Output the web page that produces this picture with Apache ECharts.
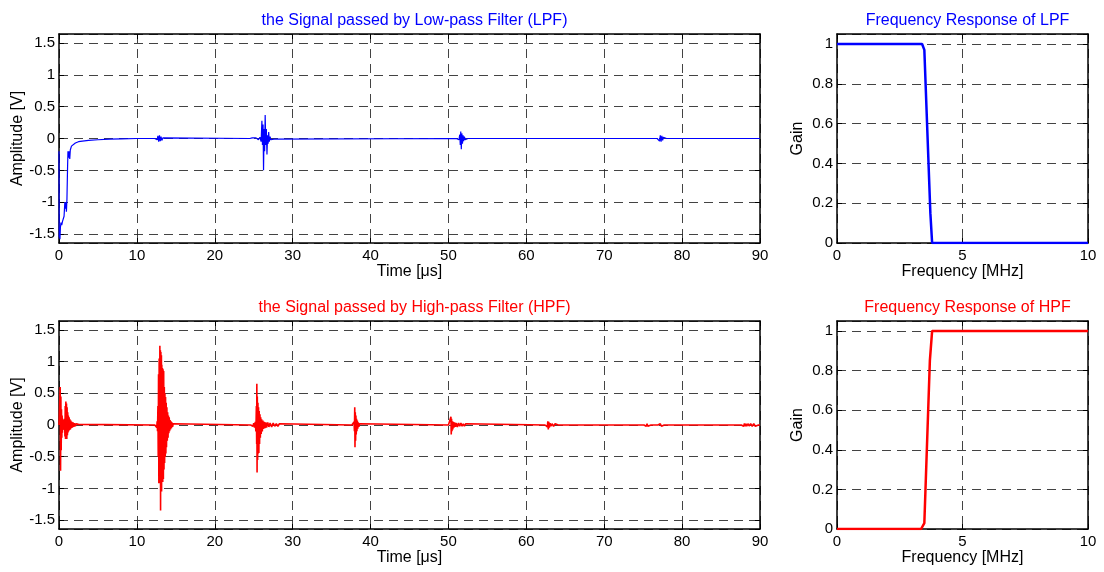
<!DOCTYPE html>
<html>
<head>
<meta charset="utf-8">
<script src="https://cdn.jsdelivr.net/npm/echarts@6/dist/echarts.min.js"></script>
<style>
html,body{margin:0;padding:0;background:#fff;}
#chart{width:1104px;height:572px;}
</style>
</head>
<body>
<div id="chart"></div>
<script>
// ---- data ----
var titles = [
  'the Signal passed by Low-pass Filter (LPF)',
  'Frequency Response of LPF',
  'the Signal passed by High-pass Filter (HPF)',
  'Frequency Response of HPF'
];
var timeAxisName = 'Time [\u03bcs]';
var ampAxisName = 'Amplitude [V]';
var freqAxisName = 'Frequency [MHz]';
var gainAxisName = 'Gain';

// LPF output signal: [time (us), amplitude (V)]
var lpfSignal = [
  [0,-0.2],[0.03,-1.55],[0.08,-1.45],[0.12,-1.58],[0.18,-1.4],[0.25,-1.32],[0.35,-1.36],[0.45,-1.3],
  [0.55,-1.3],[0.65,-1.22],[0.75,-1.0],[0.82,-1.1],[0.9,-1.0],[0.95,-1.15],[1.02,-0.95],[1.1,-0.45],
  [1.15,-0.2],[1.22,-0.3],[1.3,-0.2],[1.38,-0.32],[1.45,-0.18],[1.6,-0.12],[1.8,-0.09],[2.1,-0.07],
  [2.5,-0.05],[3.0,-0.04],[3.8,-0.03],[5,-0.02],[6.5,-0.01],[8,-0.005],[10,0],
  [12.3,0],[12.5,0.01],[12.6,-0.02],[12.7,0.04],[12.8,-0.05],[12.9,0.05],[13.0,-0.04],[13.1,0.03],
  [13.2,-0.03],[13.35,0.01],[13.5,0],
  [24.5,0],[24.8,0.01],[25.0,-0.01],[25.3,0.01],[25.6,-0.02],[25.8,0.02],[25.95,-0.05],[26.05,0.28],
  [26.12,-0.1],[26.2,0.22],[26.26,-0.5],[26.33,0.15],[26.4,-0.2],[26.47,0.37],[26.55,-0.1],[26.62,0.15],
  [26.7,-0.25],[26.78,0.05],[26.85,-0.08],[26.92,0.1],[27.0,-0.05],[27.1,0.03],[27.2,-0.02],[27.4,0.01],
  [27.6,-0.01],[27.8,0],
  [51,0],[51.2,0.01],[51.35,-0.02],[51.45,0.06],[51.52,-0.1],[51.58,0.11],[51.65,-0.17],[51.72,0.08],
  [51.8,-0.08],[51.88,0.05],[51.95,-0.04],[52.05,0.03],[52.15,-0.02],[52.3,0.01],[52.5,0],
  [76.8,0],[77.0,0.02],[77.1,-0.04],[77.2,0.05],[77.3,-0.05],[77.4,0.04],[77.5,-0.03],[77.6,0.02],
  [77.75,-0.01],[78,0],[90,0]
];

// HPF output signal: [time (us), amplitude (V)]
var hpfSignal = [
  [0,0],[0.1,0.02],[0.15,0.6],[0.2,-0.72],[0.24,0.45],[0.28,-0.4],[0.32,0.25],[0.36,-0.2],[0.4,0.15],
  [0.44,-0.12],[0.48,0.1],[0.52,-0.08],[0.56,0.08],[0.6,-0.07],[0.64,0.07],[0.68,-0.06],[0.72,0.1],
  [0.76,-0.18],[0.8,0.3],[0.84,-0.22],[0.88,0.37],[0.92,-0.2],[0.96,0.34],[1.0,-0.22],[1.04,0.28],
  [1.08,-0.16],[1.12,0.2],[1.16,-0.12],[1.2,0.15],[1.25,-0.1],[1.3,0.12],[1.35,-0.08],[1.4,0.09],
  [1.46,-0.07],[1.52,0.07],[1.58,-0.05],[1.65,0.05],[1.72,-0.04],[1.8,0.04],[1.9,-0.03],[2.0,0.03],
  [2.1,-0.02],[2.2,0.02],[2.35,-0.01],[2.5,0.01],[2.65,0],
  [12.3,0],[12.4,0.02],[12.45,-0.02],[12.5,0.03],[12.55,-0.04],[12.6,0.06],[12.65,-0.1],[12.7,0.3],
  [12.74,-0.5],[12.78,0.8],[12.82,-0.92],[12.86,1.05],[12.9,-0.9],[12.95,1.25],[12.98,-0.92],[13.02,1.18],
  [13.04,-1.35],[13.08,1.15],[13.12,-0.92],[13.15,1.1],[13.17,-1.05],[13.2,0.95],[13.24,-0.9],[13.28,0.9],
  [13.32,-0.9],[13.36,0.88],[13.4,-0.85],[13.44,0.85],[13.48,-0.7],[13.52,0.6],[13.56,-0.6],[13.6,0.5],
  [13.64,-0.5],[13.68,0.44],[13.72,-0.45],[13.76,0.35],[13.8,-0.35],[13.85,0.28],[13.9,-0.25],[13.95,0.2],
  [14.0,-0.2],[14.05,0.15],[14.1,-0.13],[14.15,0.12],[14.2,-0.1],[14.26,0.08],[14.32,-0.07],[14.38,0.06],
  [14.44,-0.05],[14.5,0.04],[14.58,-0.03],[14.66,0.02],[14.75,-0.01],[14.85,0],
  [24.6,0],[24.8,0.02],[24.9,-0.02],[25.0,0.03],[25.1,-0.04],[25.2,0.05],[25.28,-0.1],[25.34,0.3],
  [25.38,-0.3],[25.4,0.65],[25.43,-0.75],[25.46,0.45],[25.5,-0.55],[25.54,0.35],[25.58,-0.45],[25.62,0.28],
  [25.66,-0.44],[25.7,0.22],[25.75,-0.3],[25.8,0.17],[25.85,-0.2],[25.9,0.12],[25.96,-0.14],[26.02,0.09],
  [26.1,-0.1],[26.18,0.07],[26.26,-0.06],[26.35,0.05],[26.45,-0.05],[26.55,0.04],[26.65,-0.04],[26.8,0.04],
  [26.95,-0.03],[27.1,0.03],[27.3,-0.03],[27.5,0.03],[27.7,-0.02],[27.9,0.02],[28.1,-0.02],[28.3,0.02],
  [28.45,0],
  [37.6,0],[37.75,0.02],[37.82,-0.03],[37.88,0.05],[37.93,-0.1],[37.97,0.28],[38.0,-0.35],[38.04,0.2],
  [38.08,-0.25],[38.12,0.15],[38.16,-0.15],[38.2,0.1],[38.25,-0.1],[38.3,0.07],[38.36,-0.06],[38.42,0.04],
  [38.5,-0.03],[38.58,0.02],[38.68,-0.01],[38.8,0],
  [50.0,0],[50.15,0.02],[50.25,-0.03],[50.32,0.13],[50.36,-0.15],[50.4,0.1],[50.45,-0.1],[50.5,0.06],
  [50.56,-0.07],[50.62,0.05],[50.7,-0.04],[50.8,0.04],[50.9,-0.03],[51.0,0.03],[51.15,-0.03],[51.3,0.03],
  [51.45,-0.02],[51.6,0.03],[51.75,-0.02],[51.9,0.02],[52.05,-0.02],[52.2,0.02],[52.4,0],
  [62.4,0],[62.6,0.02],[62.7,-0.03],[62.76,0.06],[62.82,-0.07],[62.88,0.05],[62.95,-0.04],[63.05,0.03],
  [63.15,-0.02],[63.3,0.02],[63.5,-0.02],[63.7,0.02],[63.9,-0.01],[64.1,0],
  [75.1,0],[75.3,0.02],[75.4,-0.02],[75.5,0.02],[75.6,-0.02],[75.75,0.01],[76,0],
  [76.9,0],[77.0,0.02],[77.1,-0.02],[77.2,0.02],[77.35,-0.02],[77.5,0.01],[77.7,0],
  [87.6,0],[87.8,0.02],[87.9,-0.02],[88.0,0.025],[88.1,-0.02],[88.2,0.02],[88.3,-0.02],[88.45,0.02],
  [88.6,-0.015],[88.8,0.02],[89.0,-0.02],[89.2,0.02],[89.4,-0.02],[89.6,0.01],[89.8,0],[90,0]
];

// Frequency responses: [frequency (MHz), gain]
var lpfResponse = [[0,1],[3.39,1],[3.48,0.97],[3.72,0.15],[3.79,0],[10,0]];
var hpfResponse = [[0,0],[3.35,0],[3.48,0.03],[3.7,0.85],[3.79,1],[10,1]];

// ---- chart ----
var FONT = 'Liberation Sans, Arial, sans-serif';
var grids = [
  {left: 59, top: 34, width: 701, height: 209},
  {left: 837, top: 34, width: 251, height: 209},
  {left: 59, top: 321, width: 701, height: 208},
  {left: 837, top: 321, width: 251, height: 208}
];
var gridDefs = grids.map(function (g) {
  return {left: g.left, top: g.top, width: g.width, height: g.height, show: false,
    containLabel: false, outerBoundsMode: 'none'};
});

var dashed = {show: true, lineStyle: {color: '#222', type: [9, 6], width: 1, opacity: 0.85}};
var axisLineStyle = {show: true, onZero: false, lineStyle: {color: '#000', width: 1.5}};
var labelStyle = {color: '#000', fontFamily: FONT, fontSize: 15};
var nameStyle = {color: '#000', fontFamily: FONT, fontSize: 16};

var xSpecs = [
  {min: 0, max: 90, interval: 10, name: timeAxisName},
  {min: 0, max: 10, interval: 5, name: freqAxisName},
  {min: 0, max: 90, interval: 10, name: timeAxisName},
  {min: 0, max: 10, interval: 5, name: freqAxisName}
];
var ySpecs = [
  {min: -1.64, max: 1.64, name: ampAxisName, gap: 33},
  {min: 0, max: 1.05, name: gainAxisName, gap: 31},
  {min: -1.64, max: 1.64, name: ampAxisName, gap: 33},
  {min: 0, max: 1.05, name: gainAxisName, gap: 31}
];

var xAxes = [], yAxes = [];
xSpecs.forEach(function (s, i) {
  xAxes.push({
    type: 'value', gridIndex: i, position: 'bottom', min: s.min, max: s.max, interval: s.interval,
    name: s.name, nameLocation: 'middle', nameGap: 21, nameMoveOverlap: false, nameTextStyle: nameStyle,
    axisLine: axisLineStyle, axisTick: {show: true, inside: true, length: 5, lineStyle: {color: '#000'}},
    axisLabel: Object.assign({margin: 5}, labelStyle), splitLine: dashed
  });
});
xSpecs.forEach(function (s, i) {
  xAxes.push({
    type: 'value', gridIndex: i, position: 'top', min: s.min, max: s.max, interval: s.interval,
    axisLine: axisLineStyle, axisTick: {show: true, inside: true, length: 5, lineStyle: {color: '#000'}},
    axisLabel: {show: false}, splitLine: {show: false}
  });
});
ySpecs.forEach(function (s, i) {
  yAxes.push({
    type: 'value', gridIndex: i, position: 'left', min: s.min, max: s.max,
    name: s.name, nameLocation: 'middle', nameGap: s.gap, nameMoveOverlap: false, nameTextStyle: nameStyle,
    axisLine: axisLineStyle, axisTick: {show: true, inside: true, length: 5, lineStyle: {color: '#000'}},
    axisLabel: Object.assign({margin: 4, showMinLabel: s.min === 0, showMaxLabel: false}, labelStyle),
    splitLine: dashed
  });
});
ySpecs.forEach(function (s, i) {
  yAxes.push({
    type: 'value', gridIndex: i, position: 'right', min: s.min, max: s.max,
    axisLine: axisLineStyle, axisTick: {show: true, inside: true, length: 5, lineStyle: {color: '#000'}},
    axisLabel: {show: false}, splitLine: {show: false}
  });
});

var titleDefs = titles.map(function (t, i) {
  var g = grids[i];
  return {
    text: t, left: g.left + g.width / 2, top: g.top - 26, textAlign: 'center',
    textStyle: {color: (i < 2 ? '#0000ff' : '#ff0000'), fontFamily: FONT, fontSize: 16, fontWeight: 'normal'}
  };
});

function lineSeries(data, idx, color, width) {
  return {
    type: 'line', data: data, xAxisIndex: idx, yAxisIndex: idx, showSymbol: false, symbol: 'none',
    lineStyle: {color: color, width: width}, animation: false, silent: true, z: 5
  };
}

var option = {
  backgroundColor: '#fff',
  animation: false,
  title: titleDefs,
  grid: gridDefs,
  xAxis: xAxes,
  yAxis: yAxes,
  series: [
    lineSeries(lpfSignal, 0, '#0000ff', 1.2),
    lineSeries(lpfResponse, 1, '#0000ff', 2.5),
    lineSeries(hpfSignal, 2, '#ff0000', 1.6),
    lineSeries(hpfResponse, 3, '#ff0000', 2.5)
  ]
};

var chart = echarts.init(document.getElementById('chart'), null, {renderer: 'canvas'});
chart.setOption(option);
</script>
</body>
</html>
